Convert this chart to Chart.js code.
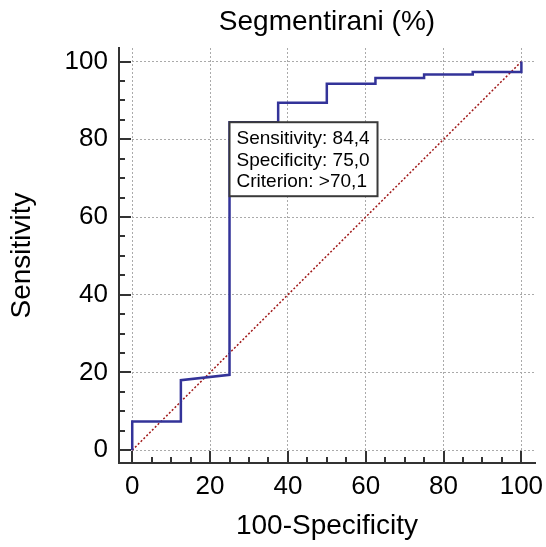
<!DOCTYPE html>
<html>
<head>
<meta charset="utf-8">
<script src="https://cdn.jsdelivr.net/npm/chart.js@4.4.1/dist/chart.umd.min.js"></script>
<style>
  body { margin: 0; background: #fff; }
  #wrap { width: 546px; height: 547px; }
</style>
</head>
<body>
<div id="wrap"><canvas id="rocChart" width="546" height="547"></canvas></div>
<script>
// ROC step curve (100-Specificity vs Sensitivity)
const fpr = [0, 0, 12.5, 12.5, 25, 25, 37.5, 37.5, 50, 50, 62.5, 62.5, 75, 75, 87.5, 87.5, 100, 100];
const tpr = [0, 7.4, 7.4, 18.0, 19.4, 84.4, 84.4, 89.4, 89.4, 94.3, 94.3, 95.8, 95.8, 96.7, 96.7, 97.3, 97.3, 100];
const diagX = [0, 100];
const diagY = [0, 100];
const tickValues = [0, 5, 10, 15, 20, 25, 30, 35, 40, 45, 50, 55, 60, 65, 70, 75, 80, 85, 90, 95, 100];
const cutoff = { x: 25, y: 84.4 };
const cutoffLines = ['Sensitivity: 84,4', 'Specificity: 75,0', 'Criterion: >70,1'];
const chartTitle = 'Segmentirani (%)';

const FONT = '"Liberation Sans", Arial, sans-serif';

function toPoints(xs, ys) {
  return xs.map((x, i) => ({ x: x, y: ys[i] }));
}

// title centred over the plot area, not the whole canvas
const plotTitle = {
  id: 'plotTitle',
  afterDraw(chart) {
    const ctx = chart.ctx;
    const a = chart.chartArea;
    ctx.save();
    ctx.fillStyle = '#000';
    ctx.font = '28px ' + FONT;
    ctx.textAlign = 'center';
    ctx.textBaseline = 'middle';
    ctx.fillText(chartTitle, (a.left + a.right) / 2, 22);
    ctx.restore();
  }
};

// inward tick marks, long at every 20, short at every 5
const innerTicks = {
  id: 'innerTicks',
  afterDraw(chart) {
    const ctx = chart.ctx;
    const area = chart.chartArea;
    const xs = chart.scales.x, ys = chart.scales.y;
    ctx.save();
    ctx.strokeStyle = '#333';
    ctx.lineWidth = 2;
    tickValues.forEach(v => {
      const len = v % 20 === 0 ? 12 : 6;
      const px = Math.round(xs.getPixelForValue(v));
      ctx.beginPath();
      ctx.moveTo(px, area.bottom);
      ctx.lineTo(px, area.bottom - len);
      ctx.stroke();
      const py = Math.round(ys.getPixelForValue(v));
      ctx.beginPath();
      ctx.moveTo(area.left, py);
      ctx.lineTo(area.left + len, py);
      ctx.stroke();
    });
    ctx.restore();
  }
};

// box with the criterion values, top-left corner on the cutoff point
const cutoffBox = {
  id: 'cutoffBox',
  afterDatasetsDraw(chart) {
    const ctx = chart.ctx;
    const px = chart.scales.x.getPixelForValue(cutoff.x);
    const py = chart.scales.y.getPixelForValue(cutoff.y);
    const w = 148, h = 74;
    ctx.save();
    ctx.fillStyle = '#fff';
    ctx.fillRect(px, py, w, h);
    ctx.strokeStyle = '#3a3a3a';
    ctx.lineWidth = 2;
    ctx.strokeRect(px, py, w, h);
    ctx.fillStyle = '#000';
    ctx.font = '19px ' + FONT;
    ctx.textBaseline = 'alphabetic';
    cutoffLines.forEach((t, i) => {
      ctx.fillText(t, px + 7, py + 22 + i * 21.5);
    });
    ctx.restore();
  }
};

function axis(min, max, fit) {
  return {
    type: 'linear',
    min: min,
    max: max,
    afterBuildTicks: s => { s.ticks = tickValues.map(v => ({ value: v })); },
    afterFit: s => {
      fit(s);
      s.paddingLeft = 0; s.paddingRight = 0; s.paddingTop = 0; s.paddingBottom = 0;
    },
    ticks: {
      autoSkip: false,
      maxRotation: 0,
      color: '#000',
      font: { family: FONT, size: 26 },
      callback: v => (v % 20 === 0 ? String(v) : '')
    },
    grid: {
      drawTicks: false,
      lineWidth: 1,
      color: c => (c.tick && c.tick.value % 20 === 0 ? '#aaaaaa' : 'rgba(0,0,0,0)')
    },
    border: { display: true, color: '#333', width: 2, dash: [2, 2] }
  };
}

const xAxis = axis(-3.4, 103.5, s => { s.height = 84; });
xAxis.ticks.padding = 8;
xAxis.title = { display: true, text: '100-Specificity', color: '#000', font: { family: FONT, size: 28 }, padding: { top: 4, bottom: 4 } };

const yAxis = axis(-3.3, 103.5, s => { s.width = 119; });
yAxis.ticks.padding = 11;
yAxis.title = { display: true, text: 'Sensitivity', color: '#000', font: { family: FONT, size: 28 }, padding: { top: 5, bottom: 5 } };

new Chart(document.getElementById('rocChart').getContext('2d'), {
  type: 'scatter',
  data: {
    datasets: [{
      label: 'ROC',
      data: toPoints(fpr, tpr),
      showLine: true,
      borderColor: '#333399',
      borderWidth: 2.5,
      pointRadius: 0,
      fill: false,
      tension: 0
    }, {
      label: 'Reference',
      data: toPoints(diagX, diagY),
      showLine: true,
      borderColor: '#a01818',
      borderWidth: 1.5,
      borderDash: [2, 2],
      pointRadius: 0,
      fill: false
    }]
  },
  options: {
    responsive: false,
    animation: false,
    layout: { padding: { left: 0, right: 11, top: 48, bottom: 0 } },
    scales: { x: xAxis, y: yAxis },
    plugins: {
      legend: { display: false },
      tooltip: { enabled: false },
      title: { display: false }
    }
  },
  plugins: [innerTicks, cutoffBox, plotTitle]
});
</script>
</body>
</html>
